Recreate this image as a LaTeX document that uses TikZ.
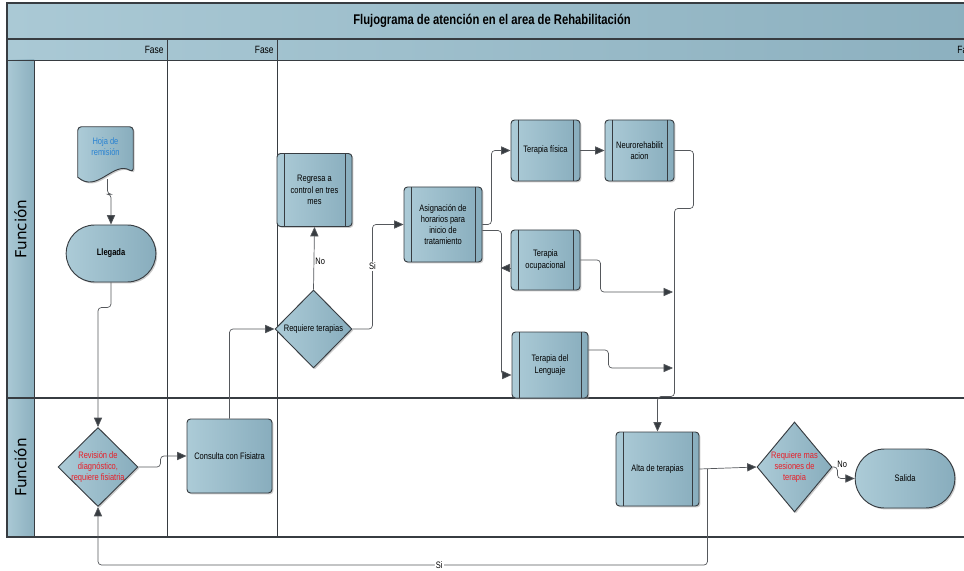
\documentclass[tikz,border=0pt]{standalone}
\usepackage{fontspec}
\setmainfont{Liberation Sans}[FakeStretch=0.8]
\newfontfamily\lanefont{DejaVu Sans}
\usepackage{tikz}
\usetikzlibrary{shapes.geometric,shapes.misc,arrows.meta,positioning,calc,shadows}
\definecolor{boxlight}{RGB}{172,203,215}
\definecolor{boxdark}{RGB}{136,173,189}
\definecolor{bandlight}{RGB}{170,201,213}
\definecolor{banddark}{RGB}{140,176,191}
\definecolor{edge}{RGB}{55,60,65}
\definecolor{wire}{RGB}{85,88,92}
\definecolor{docblue}{RGB}{40,130,210}
\definecolor{alert}{RGB}{232,30,40}
\tikzset{
    shapebase/.style={
        draw=edge, line width=0.8pt,
        left color=boxlight, right color=boxdark,
        drop shadow={shadow xshift=1.2pt, shadow yshift=-1.2pt, fill=black!40, opacity=0.5},
        align=center, font=\fontsize{8}{9.6}\selectfont
    },
    procbox/.style={
        shapebase, rectangle, rounded corners=3pt, inner sep=1pt,
        path picture={
            \draw[edge, line width=0.8pt]
                ([xshift=6pt]path picture bounding box.north west) --
                ([xshift=6pt]path picture bounding box.south west);
            \draw[edge, line width=0.8pt]
                ([xshift=-6pt]path picture bounding box.north east) --
                ([xshift=-6pt]path picture bounding box.south east);
        }
    },
    plainbox/.style={shapebase, rectangle, rounded corners=3pt, inner sep=1pt},
    decision/.style={shapebase, diamond, inner sep=-5pt},
    terminal/.style={shapebase, rounded rectangle, inner sep=1pt},
    docbox/.style={inner sep=0pt, align=center, text=docblue, font=\fontsize{8}{9.6}\selectfont},
    band/.style={left color=bandlight, right color=banddark},
    pool/.style={draw=edge, line width=1.1pt},
    poolthin/.style={draw=edge, line width=0.6pt},
    arr/.style={-{Triangle[length=8pt,width=7pt,fill=edge]}, draw=wire, line width=0.6pt, rounded corners=3pt},
    lbl/.style={font=\fontsize{8}{9}\selectfont, inner sep=1pt},
    titletext/.style={font=\fontsize{12}{14}\selectfont\bfseries},
    fasetext/.style={font=\fontsize{9}{10}\selectfont, inner sep=1pt},
    lanetext/.style={font=\fontsize{13}{15}\lanefont, rotate=90}
}

\begin{document}
\begin{tikzpicture}[x=0.03cm, y=-0.03cm]
\clip (0,0) rectangle (964,571);
\useasboundingbox (0,0) rectangle (964,571);

%% pool: title, phases, lanes
\shade[band] (7,3) rectangle (977,39);
\shade[band] (7,39) rectangle (977,60);
\shade[band] (7,60) rectangle (34,537);
\draw[pool] (7,3) rectangle (977,537);
\draw[pool] (7,39) -- (977,39);
\draw[poolthin] (7,60) -- (977,60);
\draw[pool] (7,398) -- (977,398);
\draw[poolthin] (34,60) -- (34,537);
\draw[poolthin] (167,39) -- (167,537);
\draw[poolthin] (277,39) -- (277,537);

\node[titletext] (titulo) at (492,20.5) {Flujograma de atención en el area de Rehabilitación};
\node[fasetext, anchor=east] (fase1) at (165,49.5) {Fase};
\node[fasetext, anchor=east] (fase2) at (275,49.5) {Fase};
\node[fasetext, anchor=west] (fase3) at (956,49.5) {Fase};
\node[lanetext] (funcion1) at (20.5,229) {Función};
\node[lanetext] (funcion2) at (20.5,467.5) {Función};

%% lane 1
\node[docbox, minimum width=1.65cm, minimum height=1.35cm] (hoja) at (105.5,149.5) {};
\path[shapebase, rounded corners=3pt] (hoja.north west) -- (hoja.north east) -- (hoja.south east)
    [sharp corners] .. controls ($(hoja.south east)+(-20,-12)$) and ($(hoja.south east)+(-36,22)$) .. ($(hoja.south west)+(0,5)$)
    [rounded corners=3pt] -- cycle;
\node[docbox] at ($(hoja)+(0,-3)$) {Hoja de\\remisión};

\node[terminal, minimum width=2.76cm, minimum height=1.71cm, font=\fontsize{8}{9.6}\selectfont\bfseries] (llegada) at (111,253.5) {Llegada};

\node[procbox, minimum width=2.25cm, minimum height=2.19cm] (regresa) at (314.5,190) {Regresa a\\control en tres\\mes};
\node[decision, minimum width=2.31cm, minimum height=2.34cm] (requiere) at (313.5,329) {Requiere terapias};
\node[procbox, minimum width=2.34cm, minimum height=2.25cm] (asigna) at (443,224.5) {Asignación de\\horarios para\\inicio de\\tratamiento};

\node[procbox, minimum width=2.07cm, minimum height=1.83cm] (fisica) at (545.5,150.5) {Terapia física};
\node[procbox, minimum width=2.07cm, minimum height=1.83cm] (neuro) at (639.5,150.5) {Neurorehabilit\\acion};
\node[procbox, minimum width=2.07cm, minimum height=1.8cm] (ocupa) at (545.5,260) {Terapia\\ocupacional};
\node[procbox, minimum width=2.28cm, minimum height=1.98cm] (lenguaje) at (550,365) {Terapia del\\Lenguaje};

%% lane 2
\node[decision, minimum width=2.4cm, minimum height=2.37cm, text=alert] (revision) at (98,467) {Revisión de\\diagnóstico,\\requiere fisiatria};
\node[plainbox, minimum width=2.55cm, minimum height=2.22cm] (consulta) at (229.5,456) {Consulta con Fisiatra};
\node[procbox, minimum width=2.49cm, minimum height=2.22cm] (alta) at (657.5,469) {Alta de terapias};
\node[decision, minimum width=2.25cm, minimum height=2.7cm, text=alert] (mas) at (794.5,467) {Requiere mas\\sesiones de\\terapia};
\node[terminal, minimum width=3.06cm, minimum height=1.77cm] (salida) at (905,478.5) {Salida};

%% helper points
\coordinate (busO) at (673,292);
\coordinate (busL) at (673,368);
\coordinate (split) at ($(alta.east)+(8,0)$);

%% connectors
\draw[arr] ($(hoja.south)+(2,7)$) -- ++(0,15) -| (llegada.north);
\draw[arr] (llegada.south) -- ++(0,25) -| (revision.north);
\draw[arr] (revision.east) -- ++(22,0) |- (consulta.west);
\draw[arr] (consulta.north) |- (requiere.west);
\draw[arr] (requiere.north) -- node[lbl, right, pos=0.45] {No} (regresa.south);
\draw[arr] (requiere.east) -- ++(20,0) |- node[lbl, fill=white, pos=0.3] {Si} (asigna.west);
\draw[arr] (asigna.east) -- ++(9,0) |- (fisica.west);
\draw[arr] ($(asigna.east)+(0,6)$) -- ++(19,0) |- ($(lenguaje.west)+(0,10)$);
\draw[arr] ($(ocupa.west)+(0,8)$) -- ++(-10,0);
\draw[arr] (fisica.east) -- (neuro.west);
\draw[arr] (neuro.east) -- ++(19,0) -- ++(0,58) -- ++(-19,0) -- ++(0,188) -| (alta.north);
\draw[arr] (ocupa.east) -- ++(20,0) |- (busO);
\draw[arr] ($(lenguaje.east)+(0,-15)$) -- ++(20,0) |- (busL);
\draw[arr] (alta.east) -- (mas.west);
\draw[arr] (split) -- ++(0,96) -| node[lbl, fill=white, pos=0.22] {Si} (revision.south);
\draw[arr] (mas.east) -- ++(5,0) node[lbl, above right=-2pt] {No} |- (salida.west);

\end{tikzpicture}
\end{document}
